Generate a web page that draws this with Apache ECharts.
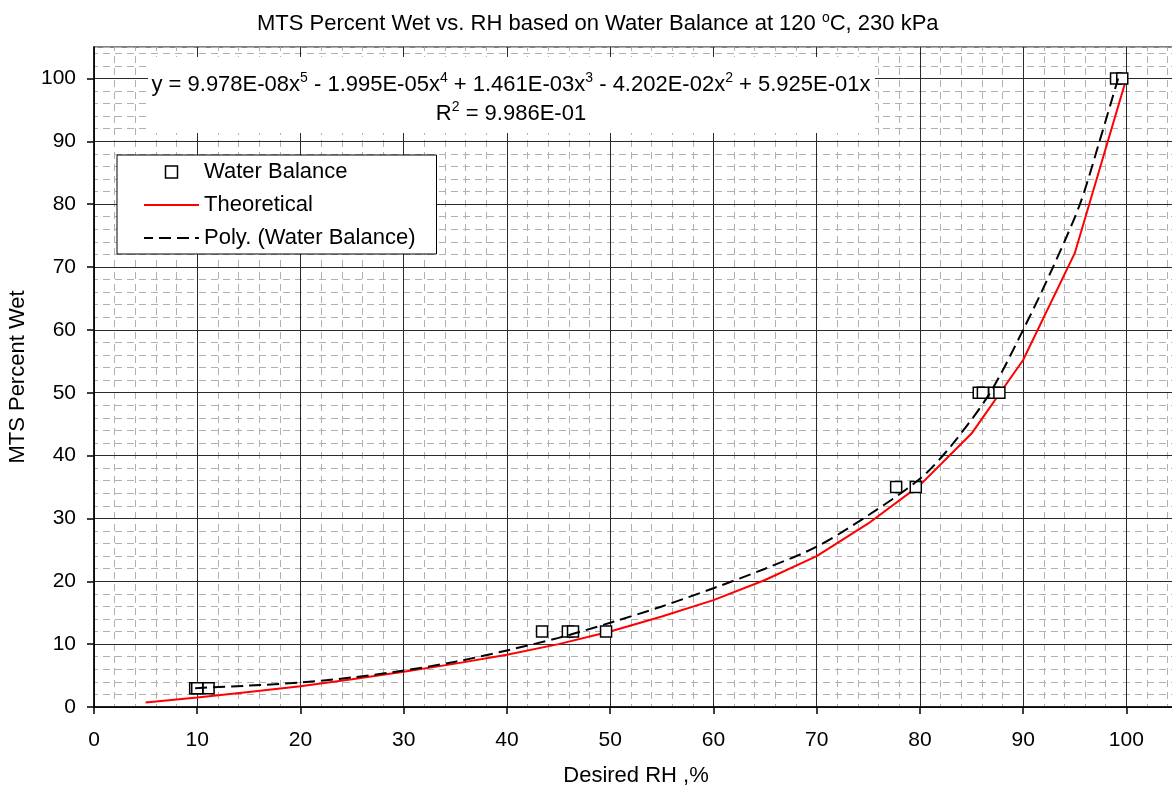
<!DOCTYPE html>
<html>
<head>
<meta charset="utf-8">
<script src="https://cdn.jsdelivr.net/npm/echarts@6/dist/echarts.min.js"></script>
<style>html,body{margin:0;padding:0;background:#fff;}#c{width:1172px;height:790px;}</style>
</head>
<body>
<div id="c"></div>
<script>
// Data
const waterBalanceX = [9.8, 10.0, 11.1, 43.4, 45.9, 46.4, 49.6, 77.7, 79.6, 85.7, 86.1, 87.2, 87.7, 99.0, 99.6];
const waterBalanceY = [3, 3, 3, 12, 12, 12, 12, 35, 35, 50, 50, 50, 50, 100, 100];
const theoreticalX = [5, 10, 15, 20, 25, 30, 35, 40, 45, 50, 55, 60, 65, 70, 75, 80, 85, 90, 95, 100];
const theoreticalY = [0.7, 1.5, 2.4, 3.3, 4.4, 5.6, 6.9, 8.3, 10, 12, 14.4, 17, 20.2, 24, 29.2, 35.3, 43.5, 55.2, 72.2, 100];
const polyX = [9.8, 15, 20, 25, 30, 35, 40, 45, 50, 55, 60, 65, 70, 75, 80, 83, 86.8, 90, 92.9, 95.5, 97.4, 99.2];
const polyY = [3.0, 3.4, 3.9, 4.7, 5.8, 7.2, 9.0, 11.0, 13.4, 16.0, 18.9, 22.0, 25.5, 30.5, 36.3, 41.5, 50, 60, 70, 80, 90, 100];
const majorTicks = [0, 10, 20, 30, 40, 50, 60, 70, 80, 90, 100];

const zip = (xs, ys) => xs.map((x, i) => [x, ys[i]]);
const FONT = '"Liberation Sans", Arial, sans-serif';

const chart = echarts.init(document.getElementById('c'));
const minorLine = { show: true, lineStyle: { color: '#b0b0b0', width: 1, type: [7, 5], dashOffset: 3 } };
const minorAxisBase = {
  type: 'value', min: 0, max: 105, interval: 2, z: 0,
  axisLine: { show: false }, axisTick: { show: false }, axisLabel: { show: false },
  splitLine: minorLine
};
const mainAxisBase = {
  type: 'value', min: 0, max: 105, interval: 10, z: 1,
  axisLine: { show: true, onZero: false, lineStyle: { color: '#000', width: 1.5 } },
  axisTick: { show: true, length: 7, customValues: majorTicks, lineStyle: { color: '#000', width: 1.5 } },
  splitLine: { show: true, lineStyle: { color: '#2a2a2a', width: 1 } },
  nameLocation: 'middle',
  nameTextStyle: { fontFamily: FONT, fontSize: 22, color: '#000' }
};
const supStyle = { fontFamily: FONT, fontSize: 14, color: '#000', fill: '#000', verticalAlign: 'top', lineHeight: 16 };
const hiddenSymbol = { color: 'transparent', borderColor: 'transparent', borderWidth: 0, opacity: 0 };

chart.setOption({
  backgroundColor: '#fff',
  animation: false,
  title: {
    text: 'MTS Percent Wet vs. RH based on Water Balance at 120 {sup|o}C, 230 kPa',
    left: 252, top: 6,
    textStyle: {
      fontFamily: FONT, fontSize: 22, fontWeight: 'normal', color: '#000', lineHeight: 26,
      rich: { sup: supStyle }
    }
  },
  grid: {
    left: 94, top: 47, width: 1084, height: 660,
    show: true, borderColor: '#808080', borderWidth: 2, backgroundColor: '#fff',
    containLabel: false, outerBoundsMode: 'none'
  },
  xAxis: [
    Object.assign({}, mainAxisBase, {
      position: 'bottom',
      name: 'Desired RH ,%', nameGap: 58,
      axisLabel: { customValues: majorTicks, margin: 23, fontFamily: FONT, fontSize: 21, color: '#000' }
    }),
    Object.assign({}, minorAxisBase, { position: 'bottom' })
  ],
  yAxis: [
    Object.assign({}, mainAxisBase, {
      position: 'left',
      name: 'MTS Percent Wet', nameGap: 65, nameRotate: 90,
      axisLabel: { customValues: majorTicks, margin: 18, fontFamily: FONT, fontSize: 21, color: '#000' }
    }),
    Object.assign({}, minorAxisBase, { position: 'left' })
  ],
  legend: {
    orient: 'vertical', left: 117, top: 155,
    padding: [6, 21, 5, 26],
    itemWidth: 55, itemHeight: 12, itemGap: 11,
    backgroundColor: '#fff', borderColor: '#000', borderWidth: 1,
    textStyle: { fontFamily: FONT, fontSize: 22, color: '#000' },
    lineStyle: { width: 2 },
    symbolKeepAspect: true,
    data: [
      { name: 'Water Balance', icon: 'path://M0,0L10,0L10,10L0,10Z',
        itemStyle: { color: '#fff', borderColor: '#000', borderWidth: 1.5 } },
      { name: 'Theoretical', itemStyle: hiddenSymbol },
      { name: 'Poly. (Water Balance)', itemStyle: hiddenSymbol }
    ]
  },
  graphic: [
    {
      type: 'rect', z: 50,
      shape: { x: 148, y: 57, width: 727, height: 76 },
      style: { fill: '#fff' }
    },
    {
      type: 'text', z: 51,
      style: {
        x: 511, y: 85, align: 'center', verticalAlign: 'middle',
        text: 'y = 9.978E-08x{sup|5} - 1.995E-05x{sup|4} + 1.461E-03x{sup|3} - 4.202E-02x{sup|2} + 5.925E-01x',
        fontFamily: FONT, fontSize: 22, fill: '#000', lineHeight: 28,
        rich: { sup: supStyle }
      }
    },
    {
      type: 'text', z: 51,
      style: {
        x: 511, y: 114, align: 'center', verticalAlign: 'middle',
        text: 'R{sup|2} = 9.986E-01',
        fontFamily: FONT, fontSize: 22, fill: '#000', lineHeight: 28,
        rich: { sup: supStyle }
      }
    }
  ],
  series: [
    {
      name: 'Theoretical', type: 'line', xAxisIndex: 0, yAxisIndex: 0,
      data: zip(theoreticalX, theoreticalY), symbol: 'none', smooth: false, z: 3,
      lineStyle: { color: '#ff0000', width: 2 }, itemStyle: { color: '#ff0000' }
    },
    {
      name: 'Water Balance', type: 'scatter', xAxisIndex: 0, yAxisIndex: 0,
      data: zip(waterBalanceX, waterBalanceY), symbol: 'rect', symbolSize: 11, z: 4,
      itemStyle: { color: '#fff', borderColor: '#000', borderWidth: 1.5, opacity: 1 }
    },
    {
      name: 'Poly. (Water Balance)', type: 'line', xAxisIndex: 0, yAxisIndex: 0,
      data: zip(polyX, polyY), symbol: 'none', smooth: 0.3, z: 5,
      lineStyle: { color: '#000', width: 2, type: [12, 6] }, itemStyle: { color: '#000' }
    }
  ]
});
</script>
</body>
</html>
